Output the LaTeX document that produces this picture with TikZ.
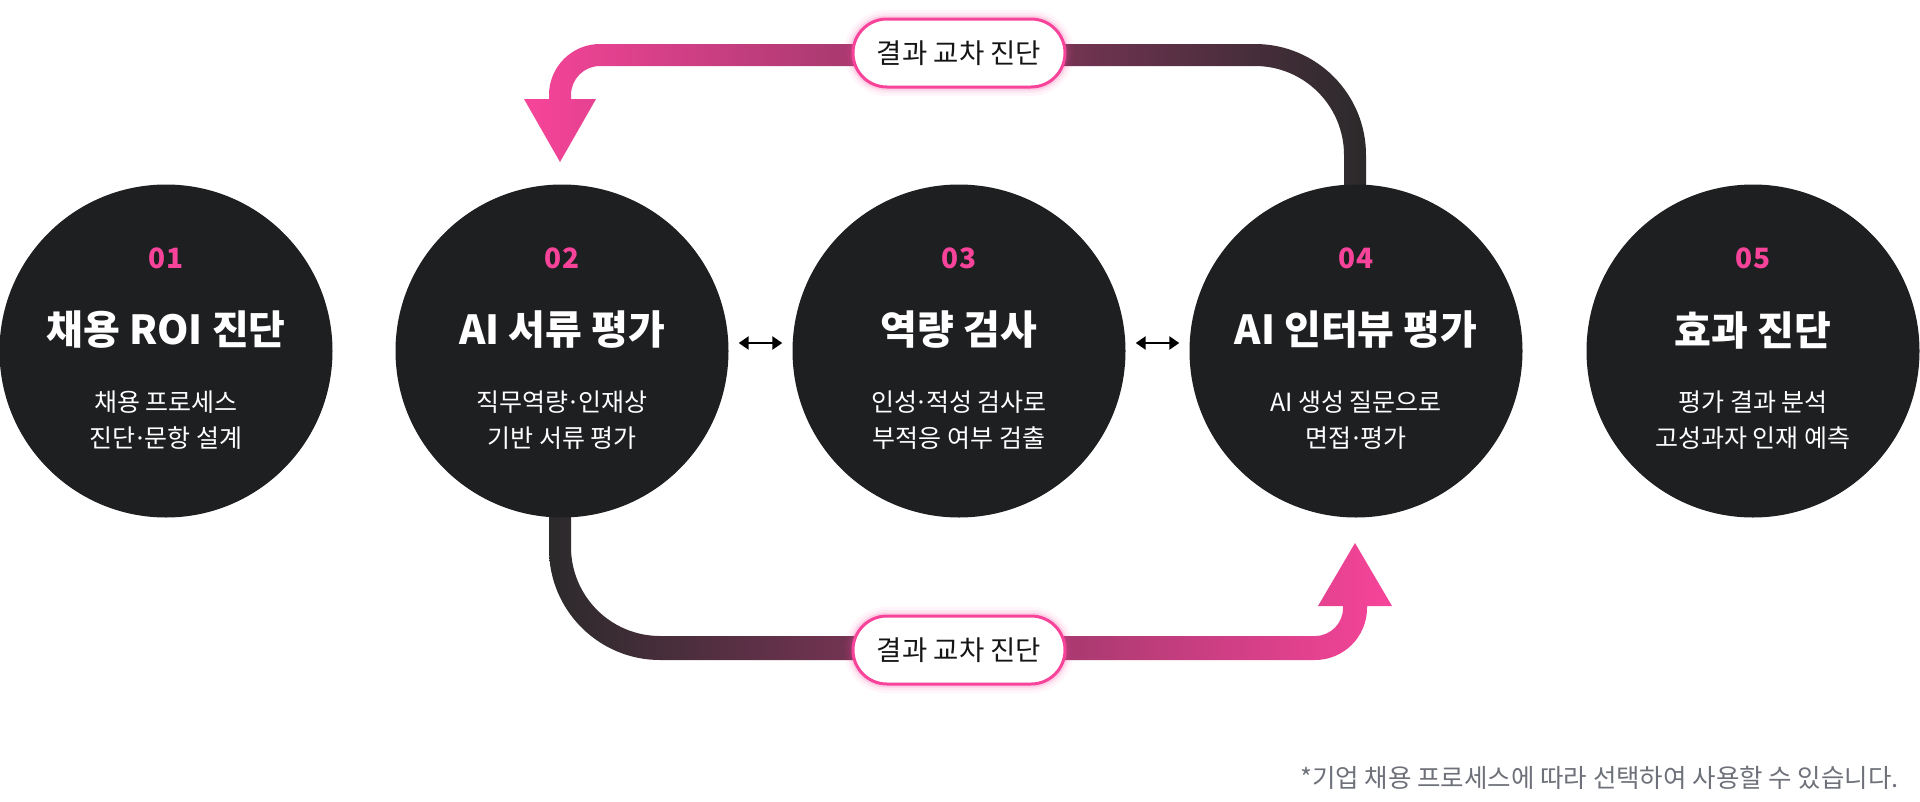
\documentclass[tikz,border=0pt]{standalone}
\usepackage{fontspec}
\setmainfont{Noto Sans CJK KR}
\usetikzlibrary{arrows.meta}
\definecolor{pinkc}{HTML}{F7449A}
\definecolor{darkc}{HTML}{1E1F21}
\definecolor{linedark}{HTML}{2B2A2B}
\definecolor{grayc}{HTML}{6E7179}
\definecolor{txtc}{HTML}{151515}
\newcommand{\mdot}{\kern-.1em·\kern-.1em}
\tikzset{
  stepcircle/.style={circle, fill=darkc, minimum size=333pt, inner sep=0pt},
  numtxt/.style={text=pinkc, font=\fontsize{28}{28}\selectfont\bfseries},
  titletxt/.style={text=white, font=\fontsize{40}{40}\selectfont\bfseries},
  subtxt/.style={text=white, align=center, font=\fontsize{25}{36}\selectfont},
  lbl/.style={rectangle, rounded corners=33.9pt, fill=white, draw=pinkc, line width=3pt,
    minimum width=212pt, minimum height=68pt, inner sep=0pt, text=txtc,
    font=\fontsize{27.5}{27.5}\selectfont,
    preaction={draw=pinkc, line width=18pt, opacity=0.05},
    preaction={draw=pinkc, line width=12pt, opacity=0.08},
    preaction={draw=pinkc, line width=7pt, opacity=0.15}},
  dbl/.style={draw=black, line width=2.5pt, {Triangle[length=10pt,width=13pt]}-{Triangle[length=10pt,width=13pt]}},
}
\begin{document}
\begin{tikzpicture}[x=1pt,y=-1pt]
\useasboundingbox (0,0) rectangle (1920,801);
% top connector (from step 04 back to step 02)
\shade[left color=pinkc, right color=linedark]
  (1366,200) -- (1366,155) arc[start angle=0,end angle=-90,radius=111]
  -- (600,44) arc[start angle=-90,end angle=-180,radius=51]
  -- (549,99) -- (524,99) -- (560,162) -- (596,99) -- (571,99) -- (571,95)
  arc[start angle=180,end angle=270,radius=29]
  -- (1255,66) arc[start angle=270,end angle=360,radius=89]
  -- (1344,200) -- cycle;
% bottom connector (from step 02 to step 04)
\shade[left color=linedark, right color=pinkc]
  (549,500) -- (549,549) arc[start angle=180,end angle=90,radius=111]
  -- (1315,660) arc[start angle=90,end angle=0,radius=52]
  -- (1367,606) -- (1392,606) -- (1355,543) -- (1318,606) -- (1343,606) -- (1343,608)
  arc[start angle=0,end angle=90,radius=28]
  -- (660,636) arc[start angle=90,end angle=180,radius=89]
  -- (571,500) -- cycle;
% circles
\node[stepcircle] (c1) at (166,351) {};
\node[stepcircle] (c2) at (562,351) {};
\node[stepcircle] (c3) at (959,351) {};
\node[stepcircle] (c4) at (1356,351) {};
\node[stepcircle] (c5) at (1753,351) {};
% texts
\node[numtxt] (n1) at ([yshift=93pt]c1.center) {01};
\node[titletxt] (t1) at ([yshift=21pt]c1.center) {채용 ROI 진단};
\node[subtxt] (s1) at ([yshift=-69pt]c1.center) {채용 프로세스\\진단\mdot 문항 설계};
\node[numtxt] (n2) at ([yshift=93pt]c2.center) {02};
\node[titletxt] (t2) at ([yshift=21pt]c2.center) {AI 서류 평가};
\node[subtxt] (s2) at ([yshift=-69pt]c2.center) {직무역량\mdot 인재상\\기반 서류 평가};
\node[numtxt] (n3) at ([yshift=93pt]c3.center) {03};
\node[titletxt] (t3) at ([yshift=21pt]c3.center) {역량 검사};
\node[subtxt] (s3) at ([yshift=-69pt]c3.center) {인성\mdot 적성 검사로\\부적응 여부 검출};
\node[numtxt] (n4) at ([yshift=93pt]c4.center) {04};
\node[titletxt] (t4) at ([yshift=21pt]c4.center) {AI 인터뷰 평가};
\node[subtxt] (s4) at ([yshift=-69pt]c4.center) {AI 생성 질문으로\\면접\mdot 평가};
\node[numtxt] (n5) at ([yshift=93pt]c5.center) {05};
\node[titletxt] (t5) at ([yshift=21pt]c5.center) {효과 진단};
\node[subtxt] (s5) at ([yshift=-69pt]c5.center) {평가 결과 분석\\고성과자 인재 예측};
% double arrows
\draw[dbl] ([xshift=10pt,yshift=8pt]c2.east) -- ([xshift=-10pt,yshift=8pt]c3.west);
\draw[dbl] ([xshift=10pt,yshift=8pt]c3.east) -- ([xshift=-10pt,yshift=8pt]c4.west);
% labels
\node[lbl] (l1) at (959,53) {결과 교차 진단};
\node[lbl] (l2) at (959,650) {결과 교차 진단};
% footnote
\node[anchor=east, text=grayc, font=\fontsize{25.5}{25.5}\selectfont, inner sep=0pt] (note) at (1899,778) {*기업 채용 프로세스에 따라 선택하여 사용할 수 있습니다.};
\end{tikzpicture}
\end{document}
